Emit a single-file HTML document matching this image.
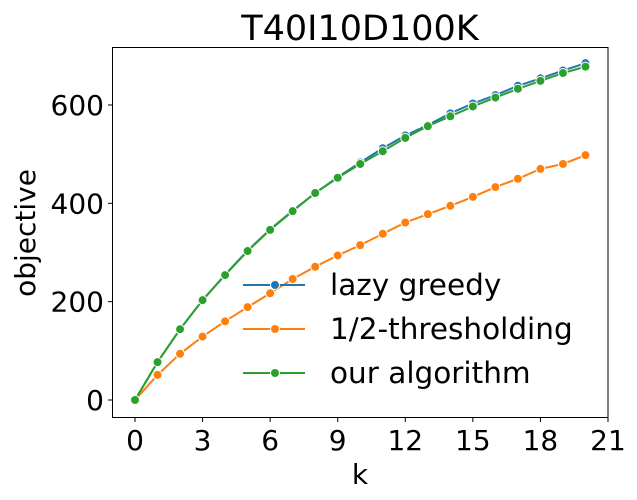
<!DOCTYPE html>
<html><head><meta charset="utf-8"><style>
html,body{margin:0;padding:0;background:#fff;}
svg{display:block;font-family:"DejaVu Sans","Liberation Sans",sans-serif;}
</style></head><body>
<svg id="chart" width="637" height="500">
<text x="360" y="40" font-size="35" text-anchor="middle">T40I10D100K</text>
<text x="360" y="484" font-size="28" text-anchor="middle">k</text>
<text transform="translate(35,233) rotate(-90)" font-size="28" text-anchor="middle">objective</text>
<g id="plot"></g>
</svg>
<script>
const ks=[0,1,2,3,4,5,6,7,8,9,10,11,12,13,14,15,16,17,18,19,20];
const lazyGreedy=[0,77,144,203,255,304,347,385,421,453,483,512,538,559,583,603,620,639,654,670,685];
const halfThreshold=[0,51,94,129,160,189,217,246,271,294,315,338,361,378,395,413,433,450,470,480,498];
const ourAlgorithm=[0,77,144,203,254,303,346,384,421,452,480,506,533,557,577,597,615,633,649,665,678];
const xTicks=[0,3,6,9,12,15,18,21];
const yTicks=[0,200,400,600];
const NS="http://www.w3.org/2000/svg";
const X=v=>135+v*(473/21);
const Y=v=>400-v*0.4917;
const g=document.getElementById('plot');
function mk(t,a){const e=document.createElementNS(NS,t);for(const k in a)e.setAttribute(k,a[k]);g.appendChild(e);return e;}
const frame=mk('rect',{x:112.5,y:47.5,width:495.5,height:370,fill:'none',stroke:'#000','stroke-width':1});


xTicks.forEach(t=>{
  const l=mk('line',{x1:X(t),x2:X(t),y1:417.5,y2:422,stroke:'#000'});
  
  
  const tx=mk('text',{x:X(t),y:450,'font-size':28,'text-anchor':'middle'});tx.textContent=t;
  
  
});
yTicks.forEach(t=>{
  const l=mk('line',{x1:108,x2:112.5,y1:Y(t),y2:Y(t),stroke:'#000'});
  
  
  const tx=mk('text',{x:104,y:Y(t)+10,'font-size':28,'text-anchor':'end'});tx.textContent=t;
  
  
});
const series=[[lazyGreedy,'#1f77b4','lazy-greedy'],[halfThreshold,'#ff7f0e','half-thresholding'],[ourAlgorithm,'#2ca02c','our-algorithm']];
series.forEach(([d,c,n])=>{
  const p=mk('polyline',{points:d.map((v,i)=>X(ks[i])+','+Y(v)).join(' '),fill:'none',stroke:c,'stroke-width':2});
  
  
  d.forEach((v,i)=>{
    const m=mk('circle',{cx:X(ks[i]),cy:Y(v),r:4.5,fill:c,stroke:'#fff','stroke-width':1});
    
    
  });
});
const labels=['lazy greedy','1/2-thresholding','our algorithm'];
series.forEach(([d,c,n],i)=>{
  const y=285+i*44;
  const l=mk('line',{x1:243,x2:305,y1:y,y2:y,stroke:c,'stroke-width':2});
  
  
  const m=mk('circle',{cx:275,cy:y,r:4.5,fill:c,stroke:'#fff','stroke-width':1});
  
  
  const t=mk('text',{x:330,y:y+10,'font-size':29.5});t.textContent=labels[i];
  
  
});
</script>
</body></html>
